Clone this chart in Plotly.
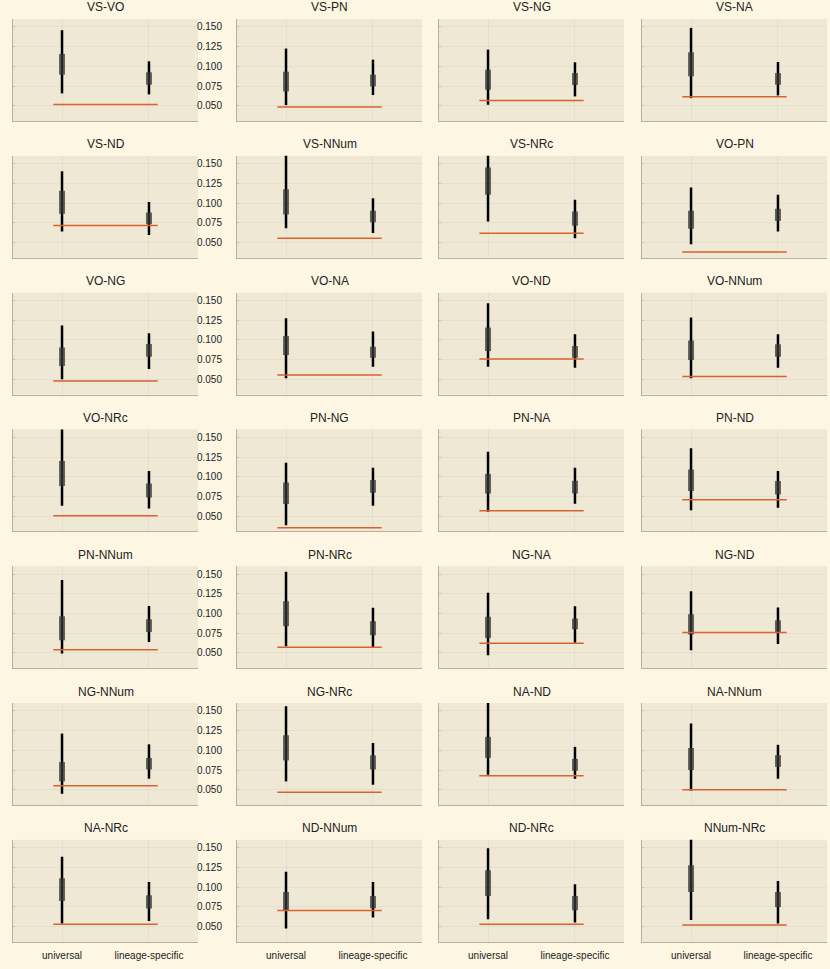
import plotly.graph_objects as go
from plotly.subplots import make_subplots

titles = ['VS-VO', 'VS-PN', 'VS-NG', 'VS-NA',
          'VS-ND', 'VS-NNum', 'VS-NRc', 'VO-PN',
          'VO-NG', 'VO-NA', 'VO-ND', 'VO-NNum',
          'VO-NRc', 'PN-NG', 'PN-NA', 'PN-ND',
          'PN-NNum', 'PN-NRc', 'NG-NA', 'NG-ND',
          'NG-NNum', 'NG-NRc', 'NA-ND', 'NA-NNum',
          'NA-NRc', 'ND-NNum', 'ND-NRc', 'NNum-NRc']
categories = ['universal', 'lineage-specific']

# universal: whisker low/high, box low/high
uni_lo = [.0657, .0508, .0513, .0597, .0640, .0682, .0767, .0479, .0500, .0513, .0661, .0513, .0631, .0386,
          .0555, .0576, .0492, .0585, .0470, .0534, .0449, .0606, .0690, .0490, .0538, .0475, .0593, .0584]
uni_hi = [.1458, .1225, .1212, .1487, .1403, .1700, .1700, .1199, .1182, .1275, .1466, .1284, .1700, .1178,
          .1318, .1360, .1424, .1530, .1263, .1284, .1212, .1559, .1700, .1340, .1386, .1196, .1492, .1700]
uni_q1 = [.0894, .0682, .0703, .0873, .0864, .0856, .1106, .0674, .0669, .0809, .0860, .0746, .0881, .0653,
          .0788, .0818, .0661, .0839, .0691, .0733, .0606, .0873, .0905, .0750, .0825, .0698, .0888, .0939]
uni_q3 = [.1157, .0932, .0958, .1178, .1157, .1177, .1453, .0903, .0903, .1051, .1157, .0992, .1199, .0928,
          .1034, .1093, .0966, .1157, .0958, .0992, .0852, .1191, .1171, .1030, .1112, .0939, .1213, .1276]
# lineage-specific
lin_lo = [.0644, .0636, .0619, .0631, .0597, .0622, .0555, .0640, .0631, .0661, .0648, .0648, .0597, .0631,
          .0657, .0606, .0640, .0568, .0631, .0614, .0640, .0564, .0639, .0640, .0572, .0614, .0551, .0538]
lin_hi = [.1064, .1085, .1051, .1055, .1013, .1062, .1042, .1106, .1085, .1106, .1072, .1072, .1072, .1114,
          .1114, .1072, .1097, .1072, .1093, .1076, .1076, .1093, .1044, .1070, .1065, .1065, .1036, .1078]
lin_q1 = [.0767, .0746, .0763, .0767, .0733, .0757, .0712, .0775, .0788, .0775, .0775, .0788, .0737, .0797,
          .0788, .0775, .0767, .0725, .0801, .0758, .0758, .0758, .0741, .0790, .0728, .0732, .0707, .0749]
lin_q3 = [.0924, .0894, .0915, .0915, .0881, .0903, .0894, .0928, .0949, .0915, .0924, .0945, .0915, .0958,
          .0949, .0945, .0928, .0903, .0936, .0915, .0903, .0936, .0892, .0940, .0897, .0888, .0888, .0939]
# reference level
ref = [.0517, .0483, .0568, .0614, .0716, .0555, .0619, .0381, .0479, .0555, .0758, .0538, .0504, .0352,
       .0568, .0708, .0542, .0572, .0623, .0758, .0551, .0470, .0677, .0500, .0530, .0703, .0530, .0521]

W, H = 830, 969
col_px = [(13, 198), (237, 422), (439, 624), (642, 827)]
row_top = [19 + 136.8 * k for k in range(7)]
ph = 102

fig = make_subplots(rows=7, cols=4)

for i, t in enumerate(titles):
    r, c = i // 4 + 1, i % 4 + 1
    fig.add_trace(go.Scatter(x=[1, 1], y=[uni_lo[i], uni_hi[i]], mode='lines',
                             line=dict(color='black', width=2.5), showlegend=False), row=r, col=c)
    fig.add_trace(go.Scatter(x=[1, 1], y=[uni_q1[i], uni_q3[i]], mode='lines',
                             line=dict(color='rgba(55,55,55,0.75)', width=6), showlegend=False), row=r, col=c)
    fig.add_trace(go.Scatter(x=[2, 2], y=[lin_lo[i], lin_hi[i]], mode='lines',
                             line=dict(color='black', width=2.5), showlegend=False), row=r, col=c)
    fig.add_trace(go.Scatter(x=[2, 2], y=[lin_q1[i], lin_q3[i]], mode='lines',
                             line=dict(color='rgba(55,55,55,0.75)', width=6), showlegend=False), row=r, col=c)
    fig.add_trace(go.Scatter(x=[0.9, 2.1], y=[ref[i], ref[i]], mode='lines',
                             line=dict(color='#d9622f', width=1.5), showlegend=False), row=r, col=c)

    x0, x1 = col_px[c - 1]
    y0 = row_top[r - 1]
    xs = '' if i == 0 else str(i + 1)
    fig.layout['xaxis' + xs].update(
        domain=[x0 / W, x1 / W], range=[0.436, 2.564],
        tickvals=[1, 2], ticktext=categories if r == 7 else ['', ''],
        showline=True, linecolor='#b4b1a4', linewidth=1,
        showgrid=True, gridcolor='rgba(0,0,0,0.035)', gridwidth=1, zeroline=False,
        ticks='', ticklabelstandoff=4,
        tickfont=dict(size=10, color='#222', family='Liberation Sans'))
    fig.layout['yaxis' + xs].update(
        domain=[(H - y0 - ph) / H, (H - y0) / H], range=[0.0307, 0.1600],
        tickvals=[0.05, 0.075, 0.1, 0.125, 0.15],
        ticktext=['0.050', '0.075', '0.100', '0.125', '0.150'] if c == 2 else [''] * 5,
        showline=True, linecolor='#b4b1a4', linewidth=1,
        showgrid=True, gridcolor='rgba(0,0,0,0.035)', gridwidth=1, zeroline=False,
        ticks='inside', ticklen=2, tickcolor='#c9c5b5', ticklabelstandoff=12,
        tickfont=dict(size=10, color='#222', family='Liberation Sans'))
    fig.add_annotation(text=t, x=(x0 + x1) / 2 / W, y=(H - y0 + 11.5) / H,
                       xref='paper', yref='paper', showarrow=False,
                       xanchor='center', yanchor='middle',
                       font=dict(size=12, color='#222', family='Liberation Sans'))

fig.update_layout(width=W, height=H, margin=dict(l=0, r=0, t=0, b=0),
                  paper_bgcolor='#fdf6e3', plot_bgcolor='#eee8d5', showlegend=False)
fig.write_html('out.html', config={'displayModeBar': False},
               post_script="document.body.style.margin='0';document.body.style.background='#fdf6e3';")
